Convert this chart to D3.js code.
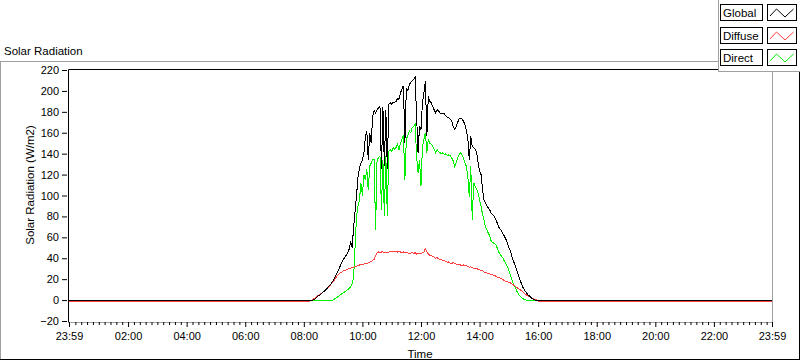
<!DOCTYPE html>
<html>
<head>
<meta charset="utf-8">
<script src="https://cdn.jsdelivr.net/npm/d3@7"></script>
<style>
  html, body { margin: 0; padding: 0; background: #fff; }
  svg { display: block; }
  text { font-family: "Liberation Sans", Arial, sans-serif; fill: #000; }
</style>
</head>
<body>
<svg id="chart" width="800" height="361"></svg>
<script>
// ---------------- DATA ----------------
const times = ["00:00",
 "08:12","08:15","08:18","08:21","08:24","08:27","08:30","08:33","08:36","08:39",
 "08:42","08:45","08:48","08:51","08:54","08:57","09:00","09:03","09:06","09:09",
 "09:12","09:15","09:18","09:21","09:24","09:27","09:30","09:33","09:36","09:39",
 "09:42","09:45","09:48","09:51","09:54","09:57","10:00","10:03","10:06","10:09",
 "10:12","10:15","10:18","10:21","10:24","10:27","10:30","10:33","10:36","10:39",
 "10:42","10:45","10:48","10:51","10:54","10:57","11:00","11:03","11:06","11:09",
 "11:12","11:15","11:18","11:21","11:24","11:27","11:30","11:33","11:36","11:39",
 "11:42","11:45","11:48","11:51","11:54","11:57","12:00","12:03","12:06","12:09",
 "12:12","12:15","12:18","12:21","12:24","12:27","12:30","12:33","12:36","12:39",
 "12:42","12:45","12:48","12:51","12:54","12:57","13:00","13:03","13:06","13:09",
 "13:12","13:15","13:18","13:21","13:24","13:27","13:30","13:33","13:36","13:39",
 "13:42","13:45","13:48","13:51","13:54","13:57","14:00","14:03","14:06","14:09",
 "14:12","14:15","14:18","14:21","14:24","14:27","14:30","14:33","14:36","14:39",
 "14:42","14:45","14:48","14:51","14:54","14:57","15:00","15:03","15:06","15:09",
 "15:12","15:15","15:18","15:21","15:24","15:27","15:30","15:33","15:36","15:39",
 "15:42","15:45","15:48","15:51","15:54","15:57","16:00",
 "23:59"];

const globalVals = [0,
 0,0,0,0.5,1.5,3,4,5,6.5,7.5,
 8.5,10,11.5,13,14.5,16.5,18.5,21,24,27,
 30,33,36,39,41,43,45,49,56,50,
 70,85,100,118,126,131,134,140,156,162,
 134,160,150,176,181,179,182,184,185,125,
 185,128,182,125,187,189,187,189,189,190,
 193,192,198,202,205,150,203,200,206,208,
 210,211,213,176,141,166,163,189,198,209,
 157,195,190,189,185,182,179,182,181,179,
 178,178,178,176,175,174,173,171,166,163,
 166,170,173,174,173,171,168,162,154,134,
 157,147,146,144,141,131,123,120,106,96,
 93,90,88,86,83,82,80,77,74,70,
 68,66,63,61,58,55,50,47,42,38,
 34,30,26,22,18,14,11,9,7,5,
 4,2.5,1.5,0.5,0,0,0,
 0];

const diffuseVals = [-1,
 -1,-0.5,0.5,1.5,2.5,3.5,4.5,5.5,6.5,7.5,
 8.5,9.5,11,12.5,14,16,17.5,19.5,21.5,23.5,
 25,26,27,28,28.5,29,29.5,30,30.5,31,
 31.5,32,32.5,33,33.5,34,34,34.5,35,35,
 35.5,36,37,38,39,42,45,46,45,46,
 46,45.5,46,45,46,46.5,46,47,46.5,47,
 46,46.5,46,45.5,46,45,45.5,45,44.5,45,
 45.5,44.5,45.5,44,45,45,44.5,45.5,46,49,
 46,44,43,42.5,41.5,41,40,40.5,39.5,39,
 38.5,38,37.5,37,36,36.5,35.5,35,36,35,
 34.5,34,34.5,33.5,33,33.5,32.5,33,32,31.5,
 32,31,30.5,30,30,29.5,29,28.5,28,27,
 26.5,26,25.5,25,24.5,24,23.5,23,22,21.5,
 21,20.5,19.5,18.5,18,17.5,17,16.5,15.5,14.5,
 13.5,12.5,11.5,10.5,9.5,8.5,7,6,5,4,
 3.5,2.5,2,1.2,0.6,0,-1,
 -1];

const directVals = [0,
 0,0,0,0,0,0,0,0,0,0,
 0,0,0,0,0,0,0,1,2,3,
 4,5,6,7,8,9,10,11,13,16,
 22,51,80,90,96,112,100,120,115,125,
 105,128,131,134,134,67,134,136,138,86,
 134,80,138,80,142,144,142,146,144,146,
 149,144,150,154,158,115,154,157,162,160,
 165,166,168,138,122,134,109,147,154,160,
 141,154,150,149,147,144,141,144,142,141,
 140,141,139,140,138,139,138,136,133,128,
 131,136,139,141,139,136,131,128,118,99,
 128,77,112,109,106,102,96,90,82,77,
 70,67,64,61,56,55,54,53,50,46,
 44,42,40,37,35,32,28,24,20,16,
 13,10,7,5,3,2,1,0.5,0,0,
 0,0,0,0,0,0,0,
 0];

const yTicks = [-20, 0, 20, 40, 60, 80, 100, 120, 140, 160, 180, 200, 220];
const xStart = "23:59"; // previous day
const xEnd = "23:59";
const xTickEveryHours = 2;
const xMinorEveryMinutes = 12;

const seriesNames = ["Global", "Diffuse", "Direct"];
const seriesColors = ["#000000", "#ff4040", "#00ee00"];

// ---------------- CHART ----------------
const svg = d3.select("#chart");
const font = '"Liberation Sans", Arial, sans-serif';

const parseT = s => { const [h, m] = s.split(":").map(Number); return new Date(Date.UTC(2000, 0, 1, h, m)); };
const [sh, sm] = xStart.split(":").map(Number);
const [eh, em] = xEnd.split(":").map(Number);
const d0 = new Date(Date.UTC(1999, 11, 31, sh, sm));
const d1 = new Date(Date.UTC(2000, 0, 1, eh, em));

const L = 68.5, R = 772.5, T = 69.5, B = 322.5;
const x = d3.scaleUtc().domain([d0, d1]).range([69, 772]);
const y = d3.scaleLinear().domain([-20, 220]).range([321, 70]);

svg.append("rect").attr("width", 800).attr("height", 361).attr("fill", "#fff");

// outer frame
svg.append("line").attr("x1", 0).attr("x2", 718).attr("y1", 61.5).attr("y2", 61.5).attr("stroke", "#a0a0a0");
svg.append("line").attr("x1", 0.5).attr("x2", 0.5).attr("y1", 61).attr("y2", 360).attr("stroke", "#a0a0a0");
svg.append("line").attr("x1", 0).attr("x2", 800).attr("y1", 359.5).attr("y2", 359.5).attr("stroke", "#000");
svg.append("line").attr("x1", 799.5).attr("x2", 799.5).attr("y1", 62).attr("y2", 360).attr("stroke", "#000");

// title
svg.append("text").attr("x", 4).attr("y", 55).attr("font-size", "11.5px").style("font-family", font).text("Solar Radiation");

// series
const series = [globalVals, diffuseVals, directVals].map((vals, i) => ({
  name: seriesNames[i], color: seriesColors[i],
  pts: times.map((t, j) => ({ t: parseT(t), v: vals[j] }))
}));

svg.append("clipPath").attr("id", "clip").append("rect")
  .attr("x", 69).attr("y", 70).attr("width", 703).attr("height", 252);

const line = d3.line().x(d => x(d.t)).y(d => y(d.v));
const gLines = svg.append("g").attr("clip-path", "url(#clip)");
// draw Direct, Diffuse, then Global on top
[2, 1, 0].forEach(i => {
  gLines.append("path").datum(series[i].pts)
    .attr("d", line).attr("fill", "none")
    .attr("stroke", series[i].color).attr("stroke-width", 1)
    .attr("shape-rendering", "crispEdges");
});

// plot border: top/left black, right/bottom gray
svg.append("line").attr("x1", L).attr("x2", R).attr("y1", T).attr("y2", T).attr("stroke", "#000");
svg.append("line").attr("x1", L).attr("x2", L).attr("y1", T).attr("y2", B).attr("stroke", "#000");
svg.append("line").attr("x1", R).attr("x2", R).attr("y1", T).attr("y2", B).attr("stroke", "#a0a0a0");
svg.append("line").attr("x1", L).attr("x2", R).attr("y1", B).attr("y2", B).attr("stroke", "#a0a0a0");

// Y axis
const yAxis = svg.append("g").attr("transform", "translate(67,0)")
  .call(d3.axisLeft(y).tickValues(yTicks).tickSize(5).tickPadding(3).tickSizeOuter(0));
yAxis.select(".domain").remove();
yAxis.selectAll("text").attr("font-size", "11px").style("font-family", font).attr("fill", "#000");
yAxis.selectAll("line").attr("stroke", "#000");

// X axis major
const majorTicks = [d0].concat(d3.utcHour.every(xTickEveryHours).range(new Date(Date.UTC(2000,0,1,1)), d1)).concat([d1]);
const xAxis = svg.append("g").attr("transform", "translate(0,322)")
  .call(d3.axisBottom(x).tickValues(majorTicks).tickFormat(d3.utcFormat("%H:%M")).tickSize(5).tickPadding(5).tickSizeOuter(0));
xAxis.select(".domain").remove();
xAxis.selectAll("text").attr("font-size", "11px").style("font-family", font).attr("fill", "#000");
xAxis.selectAll("line").attr("stroke", "#000");

// X axis minor
const minorTicks = d3.utcMinute.every(xMinorEveryMinutes).range(new Date(Date.UTC(2000,0,1,0,1)), d1)
  .filter(d => !(d.getUTCMinutes() === 0 && d.getUTCHours() % xTickEveryHours === 0));
const xMinor = svg.append("g").attr("transform", "translate(0,322)")
  .call(d3.axisBottom(x).tickValues(minorTicks).tickFormat("").tickSize(3).tickSizeOuter(0));
xMinor.select(".domain").remove();
xMinor.selectAll("line").attr("stroke", "#000");

// axis titles
svg.append("text").attr("transform", "translate(34,185) rotate(-90)")
  .attr("text-anchor", "middle").attr("font-size", "11.5px").style("font-family", font)
  .text("Solar Radiation (W/m2)");
svg.append("text").attr("x", 420).attr("y", 358)
  .attr("text-anchor", "middle").attr("font-size", "11.5px").style("font-family", font)
  .text("Time");

// legend panel
svg.append("rect").attr("x", 718.5).attr("y", -1).attr("width", 83).attr("height", 72.5)
  .attr("fill", "#fff").attr("stroke", "#a0a0a0");
const zig = [[3, 12], [9.5, 5], [18, 13], [26.5, 5]];
const zigLine = d3.line();
series.forEach((s, i) => {
  const y0 = 4 + i * 22.5;
  const g = svg.append("g").attr("transform", `translate(0,${Math.round(y0)})`);
  g.append("rect").attr("x", 720.5).attr("y", 0.5).attr("width", 42).attr("height", 16)
    .attr("fill", "#fff").attr("stroke", "#000");
  g.append("text").attr("x", 723).attr("y", 13).attr("font-size", "11.5px").style("font-family", font).text(s.name);
  g.append("rect").attr("x", 767.5).attr("y", 0.5).attr("width", 29).attr("height", 16)
    .attr("fill", "#fff").attr("stroke", "#000");
  g.append("path").attr("d", zigLine(zig.map(p => [767 + p[0], p[1]])))
    .attr("fill", "none").attr("stroke", s.color).attr("stroke-width", 1);
});
</script>
</body>
</html>
